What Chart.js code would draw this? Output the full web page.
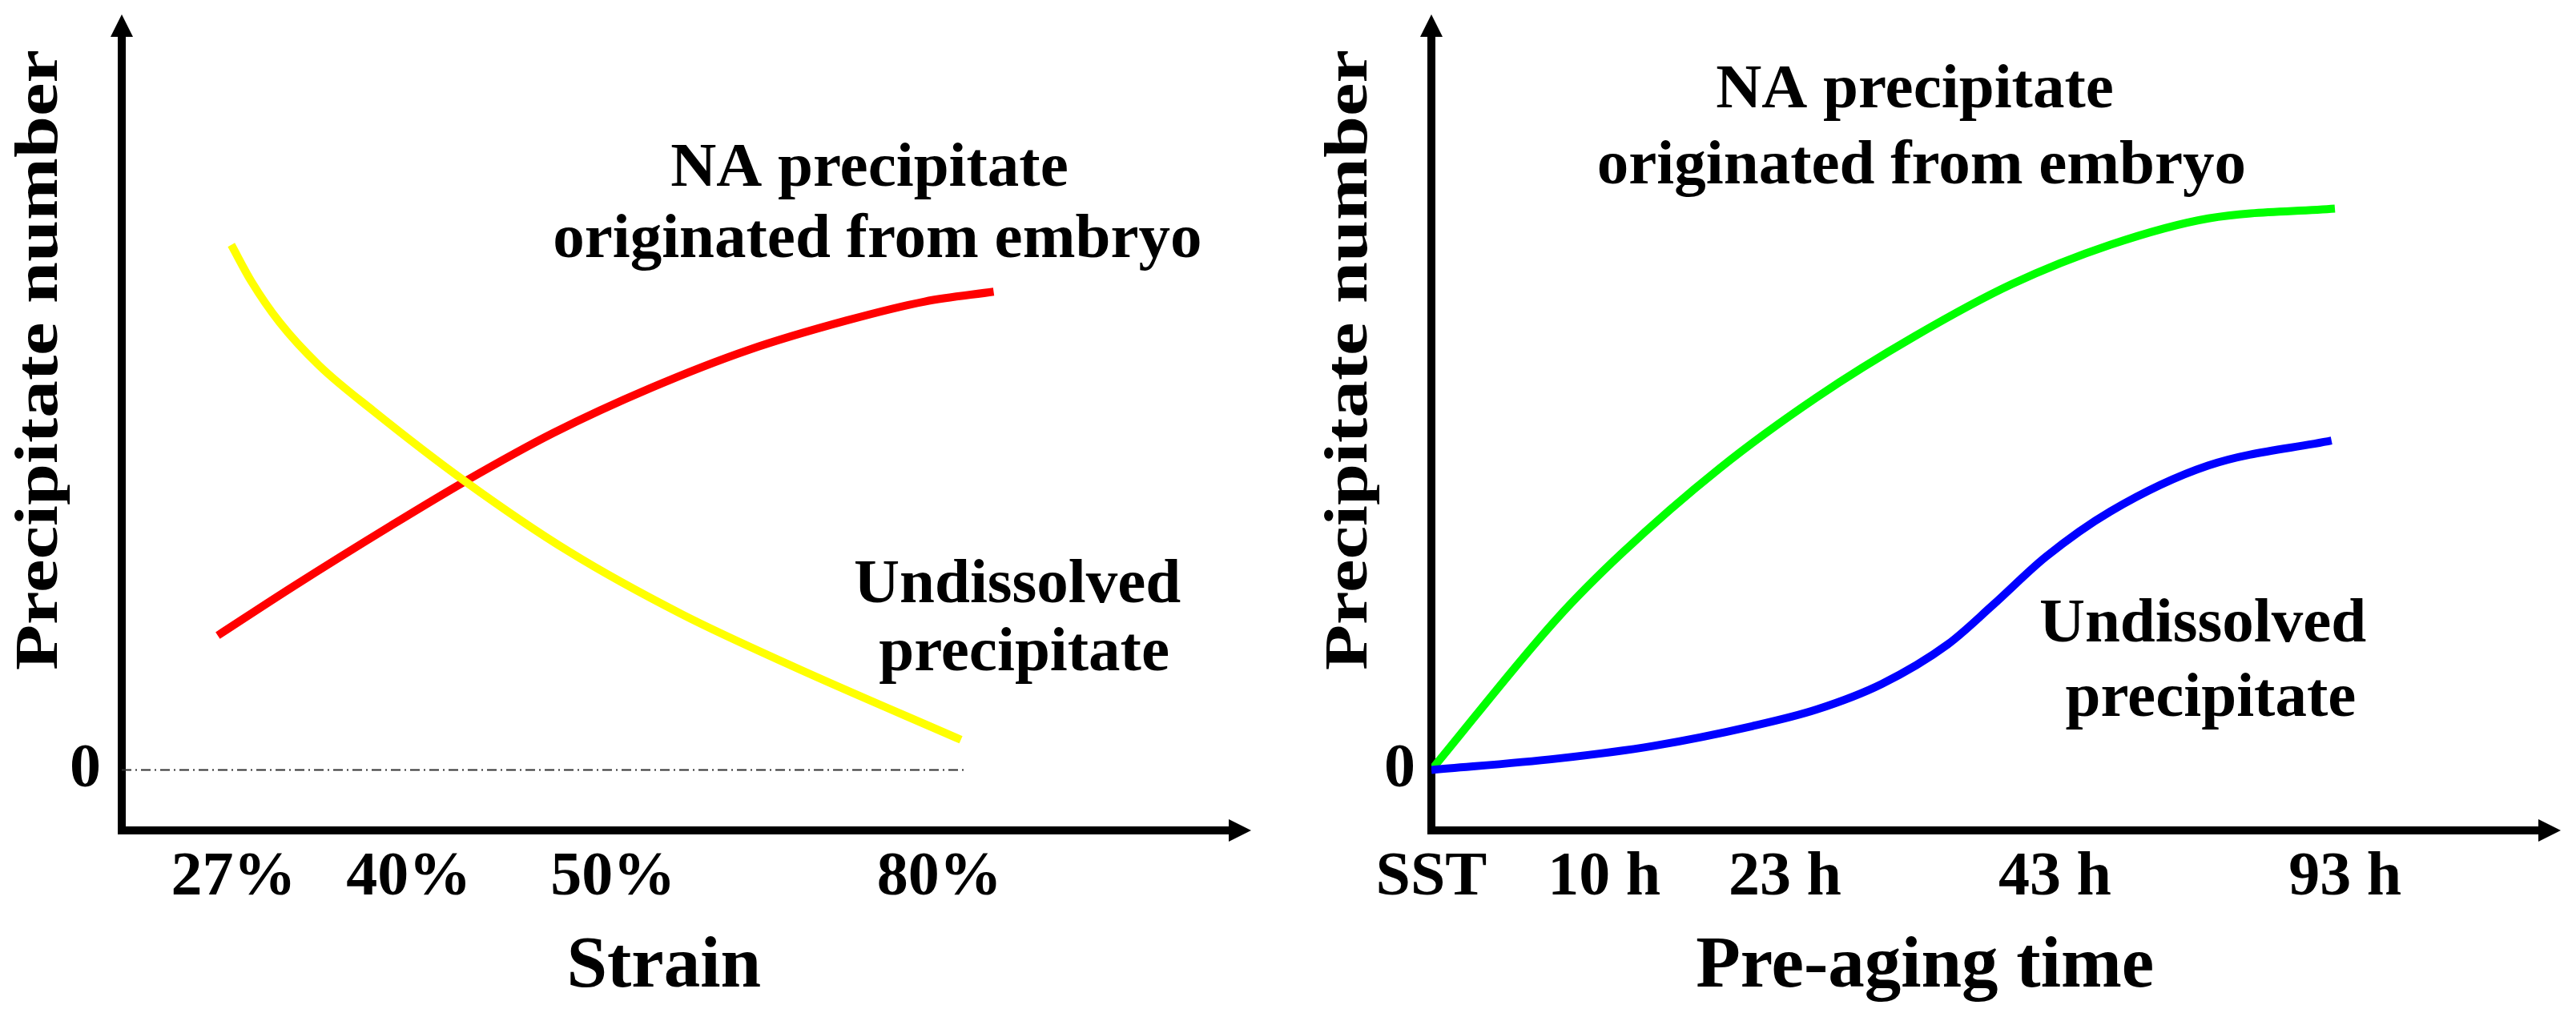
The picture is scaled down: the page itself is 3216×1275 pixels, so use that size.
<!DOCTYPE html>
<html><head><meta charset="utf-8">
<script src="https://cdn.jsdelivr.net/npm/chart.js@4.4.1/dist/chart.umd.min.js"></script>
<style>
html,body{margin:0;padding:0;background:#fff;overflow:hidden;width:3216px;height:1275px;}
.box{position:absolute;top:0;height:1275px;}
#b1{left:0;width:1637px;}
#b2{left:1635px;width:1581px;}
</style></head><body>
<div class="box" id="b1"><canvas id="c1"></canvas></div>
<div class="box" id="b2"><canvas id="c2"></canvas></div>
<script>
// ---------- data (schematic units: x 0-100 along the axis, y = precipitate number) ----------
const strainTickLabels = ['27%', '40%', '50%', '80%'];
const strainTickPos    = [9.9, 25.4, 43.5, 72.4];

const naStrainX  = [8.5, 15.2, 23.8, 30.4, 38.2, 46.9, 55.5, 64.2, 71.1, 77.2];
const naStrainY  = [17.8, 24.3, 32.3, 38.2, 44.6, 50.6, 55.6, 59.5, 62.0, 63.3];

const undStrainX = [9.7, 11.5, 14.0, 17.5, 22.3, 30.4, 39.6, 49.6, 59.6, 74.3];
const undStrainY = [69.5, 64.6, 59.2, 53.5, 47.5, 38.2, 28.9, 20.6, 13.6, 4.0];

const zeroLineX  = [0, 74.8];
const zeroLineY  = [0, 0];

const timeTickLabels = ['SST', '10 h', '23 h', '43 h', '93 h'];
const timeTickPos    = [0, 15.3, 31.3, 55.2, 80.9];

const naTimeX  = [0, 11.1, 16.8, 25.5, 34.1, 42.8, 51.4, 60.1, 68.8, 80.0];
const naTimeY  = [0, 20.0, 28.6, 39.9, 49.3, 57.4, 64.3, 69.5, 73.0, 74.3];

const undTimeX = [0, 11.1, 19.7, 28.4, 34.1, 39.9, 45.7, 49.7, 54.4, 60.1, 68.8, 79.7];
const undTimeY = [0, 1.5, 3.2, 5.8, 8.0, 11.4, 16.6, 21.8, 28.2, 34.2, 40.3, 43.6];

const yTitle = 'Precipitate number';
const naLabel  = ['NA precipitate', 'originated from embryo'];
const undLabel = ['Undissolved', 'precipitate'];

// ---------- helpers ----------
const FONT = "'Liberation Serif','Times New Roman',serif";
const pts = (xs, ys) => xs.map((x, i) => ({x: x, y: ys[i]}));

function decorPlugin(o) {
  return {
    id: 'decor',
    beforeDatasetsDraw(chart) {
      const {ctx, chartArea: a} = chart;
      ctx.save();
      ctx.fillStyle = '#000';
      ctx.strokeStyle = '#000';
      ctx.lineWidth = 10;
      ctx.lineCap = 'butt';
      ctx.beginPath();
      ctx.moveTo(a.left, a.bottom + 5);
      ctx.lineTo(a.left, a.top + 27);
      ctx.stroke();
      ctx.beginPath();
      ctx.moveTo(a.left - 5, a.bottom);
      ctx.lineTo(a.right - 26, a.bottom);
      ctx.stroke();
      ctx.beginPath();
      ctx.moveTo(a.left, a.top);
      ctx.lineTo(a.left - 14, a.top + 28);
      ctx.lineTo(a.left + 14, a.top + 28);
      ctx.closePath();
      ctx.fill();
      ctx.beginPath();
      ctx.moveTo(a.right, a.bottom);
      ctx.lineTo(a.right - 28, a.bottom - 14);
      ctx.lineTo(a.right - 28, a.bottom + 14);
      ctx.closePath();
      ctx.fill();
      ctx.restore();
    },
    afterDatasetsDraw(chart) {
      const {ctx} = chart;
      const xs = chart.scales.x, ys = chart.scales.y;
      ctx.save();
      ctx.fillStyle = '#000';
      ctx.textAlign = 'center';
      ctx.textBaseline = 'alphabetic';
      ctx.font = 'bold 79px ' + FONT;
      o.notes.forEach(n => {
        ctx.fillText(n.text, xs.getPixelForValue(n.x), ys.getPixelForValue(n.y));
      });
      // x title
      ctx.font = 'bold 91px ' + FONT;
      ctx.fillText(o.xTitle, xs.getPixelForValue(o.xTitleAt), 1232);
      // y title (rotated)
      ctx.translate(71, 449.5);
      ctx.rotate(-Math.PI / 2);
      ctx.scale(1.215, 1);
      ctx.font = 'bold 77px ' + FONT;
      ctx.fillText(yTitle, 0, 0);
      ctx.restore();
    }
  };
}

function makeChart(id, o) {
  return new Chart(document.getElementById(id), {
    type: 'line',
    data: { datasets: o.datasets },
    options: {
      responsive: true,
      maintainAspectRatio: false,
      animation: false,
      events: [],
      layout: { padding: { left: 0, top: 18, right: o.padRight, bottom: 0 } },
      elements: { point: { radius: 0 }, line: { cubicInterpolationMode: 'monotone', borderCapStyle: 'butt', borderJoinStyle: 'round' } },
      plugins: { legend: { display: false }, tooltip: { enabled: false } },
      scales: {
        x: {
          type: 'linear', min: 0, max: 100,
          grid: { display: false, drawTicks: false },
          border: { display: false },
          afterBuildTicks: s => { s.ticks = o.tickPos.map(v => ({value: v})); },
          afterFit: s => { s.height = 1275 - 1037; s.paddingLeft = 0; s.paddingRight = 0; },
          ticks: {
            autoSkip: false, maxRotation: 0, minRotation: 0, padding: 13, color: '#000',
            font: { family: FONT, size: 78, weight: 'bold' },
            callback: (v, i) => o.tickLabels[i]
          }
        },
        y: {
          type: 'linear', min: -8, max: 100,
          grid: { display: false, drawTicks: false },
          border: { display: false },
          afterBuildTicks: s => { s.ticks = [{value: 0}]; },
          afterFit: s => { s.width = 152; s.paddingTop = 0; s.paddingBottom = 0; },
          ticks: {
            padding: o.yPad, color: '#000',
            font: { family: FONT, size: 78, weight: 'bold' },
            callback: v => String(v)
          }
        }
      }
    },
    plugins: [decorPlugin(o)]
  });
}

makeChart('c1', {
  padRight: 75,
  yPad: 26,
  tickPos: strainTickPos,
  tickLabels: strainTickLabels,
  xTitle: 'Strain', xTitleAt: 48.0,
  notes: [
    {text: naLabel[0], x: 66.2, y: 77.3},
    {text: naLabel[1], x: 66.9, y: 67.9},
    {text: undLabel[0], x: 79.3, y: 22.2},
    {text: undLabel[1], x: 79.9, y: 13.2}
  ],
  datasets: [
    { label: 'Undissolved precipitate', data: pts(undStrainX, undStrainY), borderColor: '#FFFF00', borderWidth: 10, fill: false },
    { label: 'NA precipitate originated from embryo', data: pts(naStrainX, naStrainY), borderColor: '#FF0000', borderWidth: 10, fill: false },
    { label: 'zero', data: pts(zeroLineX, zeroLineY), borderColor: '#333', borderWidth: 2, borderDash: [12, 5, 2, 5], cubicInterpolationMode: 'default', tension: 0, fill: false }
  ]
});

makeChart('c2', {
  padRight: 19,
  yPad: 20,
  tickPos: timeTickPos,
  tickLabels: timeTickLabels,
  xTitle: 'Pre-aging time', xTitleAt: 43.7,
  notes: [
    {text: naLabel[0], x: 42.8, y: 87.7},
    {text: naLabel[1], x: 43.4, y: 77.6},
    {text: undLabel[0], x: 68.3, y: 17.0},
    {text: undLabel[1], x: 69.0, y: 7.2}
  ],
  datasets: [
    { label: 'Undissolved precipitate', data: pts(undTimeX, undTimeY), borderColor: '#0000FF', borderWidth: 10, fill: false },
    { label: 'NA precipitate originated from embryo', data: pts(naTimeX, naTimeY), borderColor: '#00FF00', borderWidth: 10, fill: false }
  ]
});
</script>
</body></html>
